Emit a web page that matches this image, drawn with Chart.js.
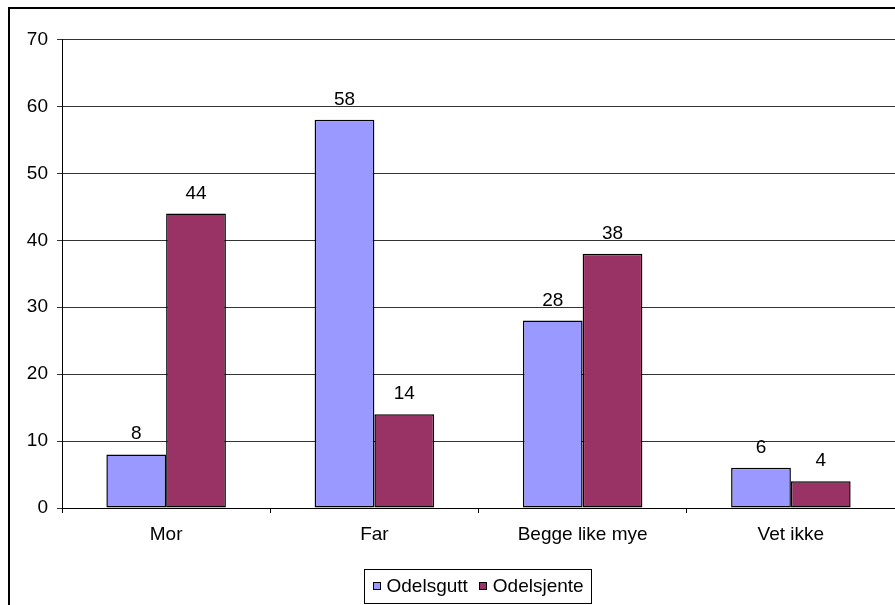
<!DOCTYPE html>
<html>
<head>
<meta charset="utf-8">
<script src="https://cdn.jsdelivr.net/npm/chart.js@4/dist/chart.umd.min.js"></script>
<style>
  html, body { margin: 0; padding: 0; background: #fff; }
  #wrap { width: 895px; height: 605px; }
</style>
</head>
<body>
<div id="wrap"><canvas id="chart" width="895" height="605"></canvas></div>
<script>
// --- Chart data ---
const categories = ['Mor', 'Far', 'Begge like mye', 'Vet ikke'];
const seriesNames = ['Odelsgutt', 'Odelsjente'];
const odelsgutt = [8, 58, 28, 6];
const odelsjente = [44, 14, 38, 4];
const yTicks = [0, 10, 20, 30, 40, 50, 60, 70];

const colors = ['#9999FF', '#993366'];
const FONT = 'Liberation Sans, Arial, sans-serif';
const FONT_SIZE = 19;

// white background + outer frame (only left and top edges are visible)
const framePlugin = {
    id: 'frame',
    beforeDraw(chart) {
        const c = chart.ctx;
        c.save();
        c.fillStyle = '#fff';
        c.fillRect(0, 0, chart.width, chart.height);
        c.restore();
    },
    afterDraw(chart) {
        const c = chart.ctx;
        c.save();
        c.strokeStyle = '#000';
        c.lineWidth = 2;
        c.beginPath();
        c.moveTo(9, chart.height + 2);
        c.lineTo(9, 8);
        c.lineTo(chart.width + 2, 8);
        c.stroke();
        c.restore();
    }
};

// value labels above every bar
const valueLabels = {
    id: 'valueLabels',
    afterDatasetsDraw(chart) {
        const c = chart.ctx;
        c.save();
        c.font = `${FONT_SIZE}px ${FONT}`;
        c.fillStyle = '#000';
        c.textAlign = 'center';
        c.textBaseline = 'alphabetic';
        chart.data.datasets.forEach((ds, i) => {
            chart.getDatasetMeta(i).data.forEach((bar, j) => {
                c.fillText(String(ds.data[j]), bar.x, bar.y - 15);
            });
        });
        c.restore();
    }
};

// Excel style legend box at the bottom
const boxLegend = {
    id: 'boxLegend',
    afterDraw(chart) {
        const c = chart.ctx;
        const sq = 8, gap = 6, itemGap = 11, pad = 8;
        c.save();
        c.font = `${FONT_SIZE}px ${FONT}`;
        const items = chart.data.datasets.map(ds => ({
            label: ds.label, color: ds.backgroundColor, w: c.measureText(ds.label).width
        }));
        let total = pad * 2;
        items.forEach((it, i) => { total += sq + gap + it.w + (i ? itemGap : 0); });
        const boxH = 34;
        const cx = 477.5, cy = 586;
        let x = Math.round(cx - total / 2) + 0.5;
        const top = Math.round(cy - boxH / 2) + 0.5;
        c.strokeStyle = '#000';
        c.lineWidth = 1;
        c.strokeRect(x, top, Math.round(total), boxH);
        x += pad;
        c.textBaseline = 'middle';
        items.forEach((it, i) => {
            if (i) x += itemGap;
            c.fillStyle = it.color;
            c.fillRect(Math.round(x), Math.round(cy - sq / 2), sq, sq);
            c.strokeRect(Math.round(x) + 0.5, Math.round(cy - sq / 2) + 0.5, sq - 1, sq - 1);
            x += sq + gap;
            c.fillStyle = '#000';
            c.fillText(it.label, x, cy + 1);
            x += it.w;
        });
        c.restore();
    }
};

new Chart(document.getElementById('chart'), {
    type: 'bar',
    data: {
        labels: categories,
        datasets: [
            { label: seriesNames[0], data: odelsgutt, backgroundColor: colors[0] },
            { label: seriesNames[1], data: odelsjente, backgroundColor: colors[1] }
        ].map(ds => Object.assign(ds, {
            borderColor: '#000',
            borderWidth: 1.5,
            borderSkipped: false,
            categoryPercentage: 0.574,
            barPercentage: 1
        }))
    },
    options: {
        responsive: false,
        animation: false,
        events: [],
        layout: { padding: { top: 39.5, right: -3, bottom: 0, left: 0 } },
        plugins: {
            legend: { display: false },
            tooltip: { enabled: false }
        },
        scales: {
            x: {
                grid: { offset: true, drawOnChartArea: false, drawTicks: true, tickLength: 5, color: '#000' },
                border: { display: true, color: '#000', width: 1 },
                ticks: { color: '#000', font: { family: FONT, size: FONT_SIZE }, padding: 10, maxRotation: 0 },
                afterFit(scale) { scale.height = 97; }
            },
            y: {
                min: 0,
                max: 70,
                afterBuildTicks(scale) { scale.ticks = yTicks.map(v => ({ value: v })); },
                grid: { color: '#333', tickLength: 5, drawTicks: true },
                border: { display: true, color: '#000', width: 1 },
                ticks: { color: '#000', font: { family: FONT, size: FONT_SIZE }, padding: 9 },
                afterFit(scale) { scale.width = 62; }
            }
        }
    },
    plugins: [framePlugin, valueLabels, boxLegend]
});
</script>
</body>
</html>
